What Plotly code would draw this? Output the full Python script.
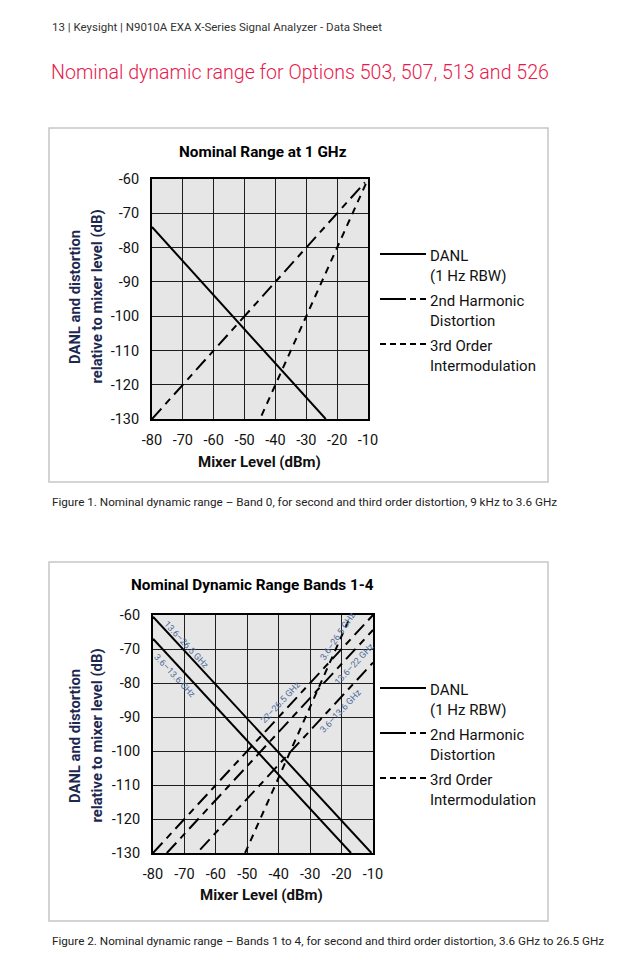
import plotly.graph_objects as go

# ---------------- data ----------------
x_tick_vals = [-80, -70, -60, -50, -40, -30, -20, -10]
x_tick_labels = ["-80", "-70", "-60", "-50", "-40", "-30", "-20", "-10"]
y_tick_vals = [-130, -120, -110, -100, -90, -80, -70, -60]
y_tick_labels = ["-130", "-120", "-110", "-100", "-90", "-80", "-70", "-60"]

series_names = ["DANL<br>(1 Hz RBW)", "2nd Harmonic<br>Distortion", "3rd Order<br>Intermodulation"]

# Figure 1 (1 GHz)
f1_danl_x = [-80, -23.7]
f1_danl_y = [-74, -130]
f1_h2_x = [-80, -11]
f1_h2_y = [-130, -61]
f1_im3_x = [-44.5, -10.5]
f1_im3_y = [-129, -61]

# Figure 2 (Bands 1-4)
f2_danl_bands = ["13.6–26.5 GHz", "3.6–13.6 GHz"]
f2_danl_x = [[-80, -10.5], [-80, -17]]
f2_danl_y = [[-60.5, -130], [-67, -130]]
f2_h2_bands = ["22–26.5 GHz", "13.6–22 GHz", "3.6–13.6 GHz"]
f2_h2_x = [[-80, -10], [-75.6, -10], [-65, -10]]
f2_h2_y = [[-130, -60], [-130, -64.4], [-129, -74]]
f2_im3_bands = ["3.6–26.5 GHz"]
f2_im3_x = [[-50.7, -17]]
f2_im3_y = [[-130, -60]]

header_text = "13 | Keysight | N9010A EXA X-Series Signal Analyzer - Data Sheet"
page_title = "Nominal dynamic range for Options 503, 507, 513 and 526"
chart_titles = ["Nominal Range at 1 GHz", "Nominal Dynamic Range Bands 1-4"]
captions = [
    "Figure 1. Nominal dynamic range – Band 0, for second and third order distortion, 9 kHz to 3.6 GHz",
    "Figure 2. Nominal dynamic range – Bands 1 to 4, for second and third order distortion, 3.6 GHz to 26.5 GHz",
]
x_title = "Mixer Level (dBm)"
y_title = ["DANL and distortion", "relative to mixer level (dB)"]

# ---------------- styling ----------------
PAGE_OFF = 8           # default body margin of the html page
W, H = 633 - PAGE_OFF, 960 - PAGE_OFF
COND = "Roboto, Liberation Sans, sans-serif"
SANS = "Roboto, Liberation Sans, sans-serif"
DASH_H2 = "14px,6px,7px,6px"
DASH_IM3 = "7px,6px"
LEG_DASH = [None, "26px,4px,6px,4px,6px,4px", "6px,4px"]
LW = 2


def px(x):
    return (x - PAGE_OFF) / W


def py(y):
    return 1 - (y - PAGE_OFF) / H


def cfont(size, color="#111"):
    return dict(family=COND, size=size, color=color)


fig = go.Figure()

# ---- figure 1 traces ----
fig.add_trace(go.Scatter(x=f1_danl_x, y=f1_danl_y, mode="lines",
                         line=dict(color="black", width=LW), xaxis="x", yaxis="y", showlegend=False))
fig.add_trace(go.Scatter(x=f1_h2_x, y=f1_h2_y, mode="lines",
                         line=dict(color="black", width=LW, dash=DASH_H2), xaxis="x", yaxis="y", showlegend=False))
fig.add_trace(go.Scatter(x=f1_im3_x, y=f1_im3_y, mode="lines",
                         line=dict(color="black", width=LW, dash=DASH_IM3), xaxis="x", yaxis="y", showlegend=False))

# ---- figure 2 traces ----
for xs, ys in zip(f2_danl_x, f2_danl_y):
    fig.add_trace(go.Scatter(x=xs, y=ys, mode="lines", line=dict(color="black", width=LW),
                             xaxis="x2", yaxis="y2", showlegend=False))
for xs, ys in zip(f2_h2_x, f2_h2_y):
    fig.add_trace(go.Scatter(x=xs, y=ys, mode="lines", line=dict(color="black", width=LW, dash=DASH_H2),
                             xaxis="x2", yaxis="y2", showlegend=False))
for xs, ys in zip(f2_im3_x, f2_im3_y):
    fig.add_trace(go.Scatter(x=xs, y=ys, mode="lines", line=dict(color="black", width=LW, dash=DASH_IM3),
                             xaxis="x2", yaxis="y2", showlegend=False))

axis_common = dict(showgrid=True, gridcolor="#1e1e1e", gridwidth=1.4, zeroline=False,
                   showline=True, linecolor="black", linewidth=2, mirror=True, automargin=False,
                   ticks="", tickfont=cfont(14.5))
xa = dict(axis_common, range=[-80, -10], tickmode="array", tickvals=x_tick_vals, ticktext=x_tick_labels,
          ticklabelstandoff=7)
ya = dict(axis_common, range=[-130, -60], tickmode="array", tickvals=y_tick_vals, ticktext=y_tick_labels,
          ticklabelstandoff=8)

plots = [
    dict(x0=152, x1=368, y0=179, y1=419, box=(49, 128, 548, 482),
         title_x=263, title_y=152, ytitle_y=297, xtitle_x=259, xtitle_y=462),
    dict(x0=153, x1=373, y0=615, y1=853, box=(49, 562, 548, 921),
         title_x=252, title_y=585, ytitle_y=736, xtitle_x=261, xtitle_y=895),
]

fig.update_layout(
    width=W, height=H, margin=dict(l=0, r=0, t=0, b=0, autoexpand=False),
    paper_bgcolor="white", plot_bgcolor="#e6e6e6", showlegend=False,
    xaxis=dict(xa, domain=[px(plots[0]["x0"]), px(plots[0]["x1"])], anchor="y"),
    yaxis=dict(ya, domain=[py(plots[0]["y1"]), py(plots[0]["y0"])], anchor="x"),
    xaxis2=dict(xa, domain=[px(plots[1]["x0"]), px(plots[1]["x1"])], anchor="y2"),
    yaxis2=dict(ya, domain=[py(plots[1]["y1"]), py(plots[1]["y0"])], anchor="x2"),
)

shapes = []
ann = []

# page header and title
ann.append(dict(text=header_text, x=px(50), y=py(27), xref="paper", yref="paper", xanchor="left",
                yanchor="middle", showarrow=False, font=dict(family=SANS, size=11.5, color="#333")))
ann.append(dict(text=page_title, x=px(49), y=py(73), xref="paper", yref="paper", xanchor="left",
                yanchor="middle", showarrow=False, font=dict(family=SANS, size=19.6, color="#e8194b", weight=300)))

for i, p in enumerate(plots):
    bx0, by0, bx1, by1 = p["box"]
    shapes.append(dict(type="rect", xref="paper", yref="paper", x0=px(bx0), x1=px(bx1), y0=py(by1), y1=py(by0),
                       line=dict(color="#c6c6c6", width=1.5), fillcolor="rgba(0,0,0,0)", layer="below"))
    off = by0 - 128
    ann.append(dict(text="<b>%s</b>" % chart_titles[i], x=px(p["title_x"]), y=py(p["title_y"]), xref="paper",
                    yref="paper", xanchor="center", yanchor="middle", showarrow=False,
                    font=cfont(15.3, "black")))
    ann.append(dict(text="<b>%s</b>" % x_title, x=px(p["xtitle_x"]), y=py(p["xtitle_y"]), xref="paper",
                    yref="paper", xanchor="center", yanchor="middle", showarrow=False, font=cfont(15)))
    ann.append(dict(text="<b>%s</b>" % y_title[0], x=px(75), y=py(p["ytitle_y"]), xref="paper", yref="paper",
                    xanchor="center", yanchor="middle", showarrow=False, textangle=-90,
                    font=cfont(14.8, "#1c2850")))
    ann.append(dict(text="<b>%s</b>" % y_title[1], x=px(96.5), y=py(p["ytitle_y"]), xref="paper", yref="paper",
                    xanchor="center", yanchor="middle", showarrow=False, textangle=-90,
                    font=cfont(14.8, "#1c2850")))
    # legend
    for k, name in enumerate(series_names):
        ly = 254 + off + 45 * k
        line = dict(color="black", width=2)
        if LEG_DASH[k]:
            line["dash"] = LEG_DASH[k]
        shapes.append(dict(type="line", xref="paper", yref="paper", x0=px(380), x1=px(426), y0=py(ly), y1=py(ly),
                           line=line))
        ann.append(dict(text=name, x=px(428), y=py(ly - 9), xref="paper", yref="paper", xanchor="left",
                        yanchor="top", align="left", showarrow=False, font=cfont(15)))
    ann.append(dict(text=captions[i], x=px(50), y=py(by1 + 20), xref="paper", yref="paper", xanchor="left",
                    yanchor="middle", showarrow=False, font=dict(family=SANS, size=11.7, color="#222")))

# band labels on figure 2
LBL = dict(family=COND, size=9, color="#4d6b99")
band_label_pos = [
    (f2_danl_bands[0], -69.3, -68.8, 47),
    (f2_danl_bands[1], -73.0, -77.9, 47),
    (f2_h2_bands[0], -39.3, -85.7, -47),
    (f2_h2_bands[1], -15.9, -74.5, -47),
    (f2_h2_bands[2], -20.3, -88.3, -47),
    (f2_im3_bands[0], -21.2, -66.2, -56),
]
for txt, lx, ly, ang in band_label_pos:
    ann.append(dict(text=txt, x=lx, y=ly, xref="x2", yref="y2", showarrow=False, textangle=ang,
                    xanchor="center", yanchor="middle", font=LBL))

fig.update_layout(shapes=shapes, annotations=ann)
fig.write_html("out.html")
